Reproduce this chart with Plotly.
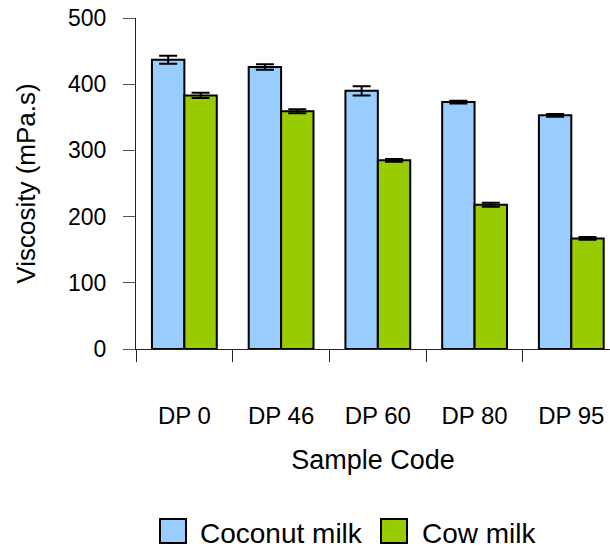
import plotly.graph_objects as go

# Viscosity of dairy-style products by sample code
samples = ["DP 0", "DP 46", "DP 60", "DP 80", "DP 95"]
coconut = [437, 426, 390, 373, 353]
coconut_err = [6, 4, 7, 2, 2]
cow = [383, 359, 285, 218, 167]
cow_err = [4, 3, 2, 3, 2]

series_names = ["Coconut milk", "Cow milk"]
series_colors = ["#99CCFF", "#99CC00"]

W, H = 610, 548
ML, MR, MT, MB = 136, 0, 18, 199
PW, PH = W - ML - MR, H - MT - MB
FONT = "Liberation Sans, Arial, sans-serif"


def px_x(x):
    return (x - ML) / PW


def px_y(y):
    return (H - MB - y) / PH


fig = go.Figure()
for name, vals, errs, col in [
    (series_names[0], coconut, coconut_err, series_colors[0]),
    (series_names[1], cow, cow_err, series_colors[1]),
]:
    fig.add_trace(go.Bar(
        x=samples, y=vals, name=name,
        marker=dict(color=col, line=dict(color="black", width=2)),
        error_y=dict(type="data", array=errs, visible=True,
                     color="black", thickness=2, width=9),
        showlegend=False,
    ))

# Legend drawn as swatches with labels below the axis title
legend_items = [
    (160, 186, 198, series_names[0], series_colors[0]),
    (381, 407, 420, series_names[1], series_colors[1]),
]
for x0, x1, tx, label, col in legend_items:
    fig.add_shape(type="rect", xref="paper", yref="paper",
                  x0=px_x(x0), x1=px_x(x1), y0=px_y(543), y1=px_y(519),
                  fillcolor=col, line=dict(color="black", width=2))
    fig.add_annotation(xref="paper", yref="paper", x=px_x(tx), y=px_y(533),
                       text=label, showarrow=False, xanchor="left",
                       yanchor="middle",
                       font=dict(family=FONT, size=28, color="black"))

fig.update_layout(
    width=W, height=H,
    margin=dict(l=ML, r=MR, t=MT, b=MB, pad=0),
    paper_bgcolor="white", plot_bgcolor="white",
    barmode="group", bargap=0.33, bargroupgap=0,
    font=dict(family=FONT, color="black"),
)
fig.update_xaxes(
    type="category", range=[-0.5, 4.4],
    showline=True, linecolor="#222", linewidth=1,
    ticks="outside", tickson="boundaries", ticklen=12, tickcolor="#222",
    tickwidth=1, showgrid=False, zeroline=False,
    tickfont=dict(family=FONT, size=24, color="black"),
    ticklabelstandoff=45,
    title=dict(text="Sample Code", font=dict(family=FONT, size=27, color="black"),
               standoff=22),
)
fig.update_yaxes(
    range=[0, 500], dtick=100,
    showline=True, linecolor="#222", linewidth=1,
    ticks="outside", ticklen=12, tickcolor="#555", tickwidth=1,
    showgrid=False, zeroline=False,
    tickfont=dict(family=FONT, size=23, color="black"),
    ticklabelstandoff=12,
    title=dict(text="Viscosity (mPa.s)", font=dict(family=FONT, size=26, color="black"),
               standoff=24),
)

fig.write_html("out.html")
